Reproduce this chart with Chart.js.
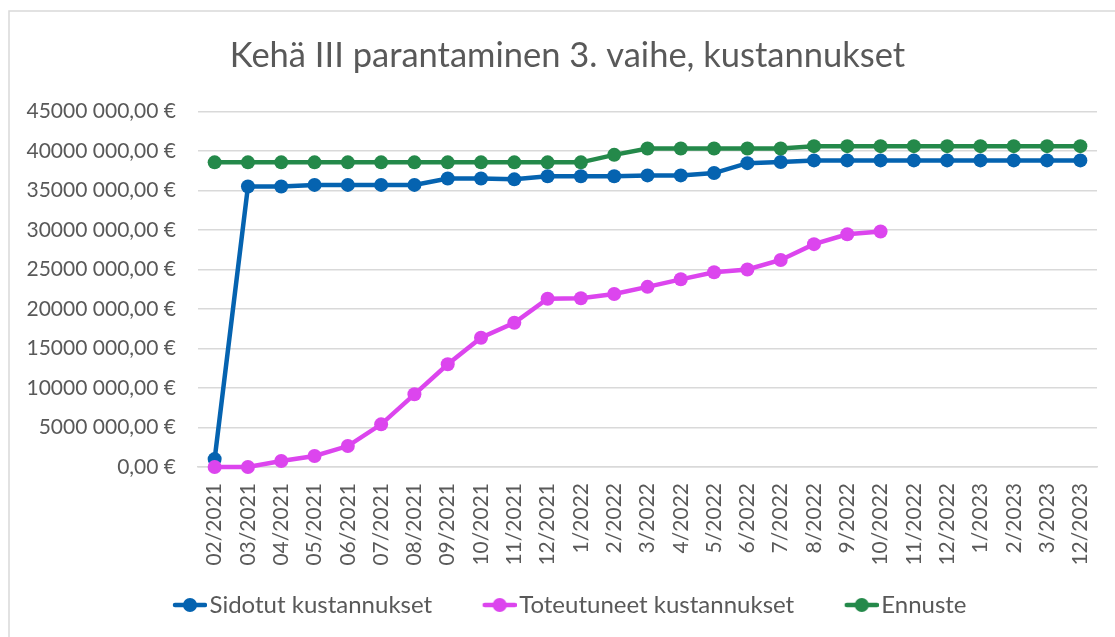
<!DOCTYPE html>
<html>
<head>
<meta charset="utf-8">
<script src="https://cdn.jsdelivr.net/npm/chart.js@4"></script>
<style>
  html, body { margin: 0; padding: 0; background: #ffffff; }
  #wrap { position: relative; width: 1115px; height: 637px; }
</style>
</head>
<body>
<div id="wrap"><canvas id="c" width="1115" height="637"></canvas></div>
<script>
const categories = ['02/2021','03/2021','04/2021','05/2021','06/2021','07/2021','08/2021','09/2021','10/2021','11/2021','12/2021','1/2022','2/2022','3/2022','4/2022','5/2022','6/2022','7/2022','8/2022','9/2022','10/2022','11/2022','12/2022','1/2023','2/2023','3/2023','12/2023'];

const sidotut = [1000000, 35500000, 35500000, 35700000, 35700000, 35700000, 35700000, 36500000, 36500000, 36400000, 36800000, 36800000, 36800000, 36900000, 36900000, 37200000, 38450000, 38600000, 38800000, 38800000, 38800000, 38800000, 38800000, 38800000, 38800000, 38800000, 38800000];

const toteutuneet = [0, 0, 750000, 1400000, 2650000, 5400000, 9200000, 13000000, 16350000, 18250000, 21300000, 21350000, 21900000, 22800000, 23750000, 24650000, 25000000, 26200000, 28200000, 29450000, 29800000, null, null, null, null, null, null];

const ennuste = [38550000, 38550000, 38550000, 38550000, 38550000, 38550000, 38550000, 38550000, 38550000, 38550000, 38550000, 38550000, 39500000, 40300000, 40300000, 40300000, 40300000, 40300000, 40600000, 40600000, 40600000, 40600000, 40600000, 40600000, 40600000, 40600000, 40600000];

const yTicks = [0, 5000000, 10000000, 15000000, 20000000, 25000000, 30000000, 35000000, 40000000, 45000000];

const seriesNames = ['Sidotut kustannukset', 'Toteutuneet kustannukset', 'Ennuste'];
const seriesColors = ['#0563b0', '#dc45ee', '#24894a'];

function euro(v) {
  if (v === 0) return '0,00 €';
  const k = Math.floor(v / 1000);
  const r = v % 1000;
  return k + ' ' + String(r).padStart(3, '0') + ',00 €';
}

// legend icon: line with a dot, right-aligned inside a wider transparent image
const ICON_BOX = 55;
function legendIcon(color) {
  const cv = document.createElement('canvas');
  cv.width = ICON_BOX + 19; cv.height = 16;
  const g = cv.getContext('2d');
  const x0 = cv.width - 34;
  g.strokeStyle = color; g.lineWidth = 4.5; g.lineCap = 'round';
  g.beginPath(); g.moveTo(x0 + 2, 8); g.lineTo(x0 + 32, 8); g.stroke();
  g.fillStyle = color;
  g.beginPath(); g.arc(x0 + 17, 8, 7, 0, Math.PI * 2); g.fill();
  return cv;
}
const icons = seriesColors.map(legendIcon);

const framePlugin = {
  id: 'frame',
  beforeDraw(chart) {
    const ctx = chart.ctx;
    ctx.save();
    ctx.fillStyle = '#ffffff';
    ctx.fillRect(0, 0, chart.width, chart.height);
    ctx.strokeStyle = '#d9d9d9';
    ctx.lineWidth = 1.5;
    ctx.beginPath();
    ctx.moveTo(9, 700); ctx.lineTo(9, 11); ctx.lineTo(1200, 11);
    ctx.stroke();
    ctx.restore();
  },
  afterLayout(chart) {
    const t = chart.titleBlock;
    if (t) { t.left += 8; t.right += 8; }
    const l = chart.legend;
    if (l) { l.left -= 5; l.right -= 5; }
  }
};

const FONT = 'Lato, "Open Sans", sans-serif';
const TXT = '#595959';

function ds(i, data, order) {
  return {
    label: seriesNames[i],
    data: data,
    borderColor: seriesColors[i],
    backgroundColor: seriesColors[i],
    borderWidth: 4.5,
    pointRadius: 7,
    pointHoverRadius: 7,
    pointBorderWidth: 0,
    pointBackgroundColor: seriesColors[i],
    tension: 0,
    spanGaps: false,
    clip: false,
    order: order
  };
}

new Chart(document.getElementById('c'), {
  type: 'line',
  data: {
    labels: categories,
    datasets: [ds(0, sidotut, 3), ds(1, toteutuneet, 2), ds(2, ennuste, 1)]
  },
  options: {
    responsive: false,
    animation: false,
    devicePixelRatio: 1,
    layout: { padding: { left: 22, right: 18, top: 0, bottom: 10 } },
    plugins: {
      title: {
        display: true,
        text: 'Kehä III parantaminen 3. vaihe, kustannukset',
        color: TXT,
        font: { family: FONT, size: 34.5, weight: 'normal' },
        padding: { top: 35, bottom: 35 }
      },
      legend: {
        display: true,
        position: 'bottom',
        labels: {
          color: TXT,
          font: { family: FONT, size: 24 },
          usePointStyle: true,
          pointStyleWidth: ICON_BOX,
          padding: 20,
          sort: (a, b) => a.datasetIndex - b.datasetIndex,
          generateLabels(chart) {
            const items = Chart.defaults.plugins.legend.labels.generateLabels(chart);
            items.forEach(it => { it.pointStyle = icons[it.datasetIndex]; });
            return items;
          }
        }
      },
      tooltip: { enabled: false }
    },
    scales: {
      x: {
        type: 'category',
        offset: true,
        grid: { display: false, drawTicks: false },
        border: { display: true, color: '#d9d9d9', width: 1.5 },
        ticks: {
          color: TXT,
          font: { family: FONT, size: 21 },
          minRotation: 90,
          maxRotation: 90,
          autoSkip: false,
          padding: 16
        },
        afterFit(scale) { scale.height = 106; scale.paddingLeft = 0; scale.paddingRight = 0; }
      },
      y: {
        min: 0,
        max: 45000000,
        afterBuildTicks(scale) { scale.ticks = yTicks.map(v => ({ value: v })); },
        grid: { color: '#d9d9d9', lineWidth: 1.5, drawTicks: false },
        border: { display: false },
        ticks: {
          color: TXT,
          font: { family: FONT, size: 21 },
          padding: 22,
          callback: (v) => euro(v)
        },
        afterFit(scale) { scale.width = 176; }
      }
    }
  },
  plugins: [framePlugin]
});
</script>
</body>
</html>
